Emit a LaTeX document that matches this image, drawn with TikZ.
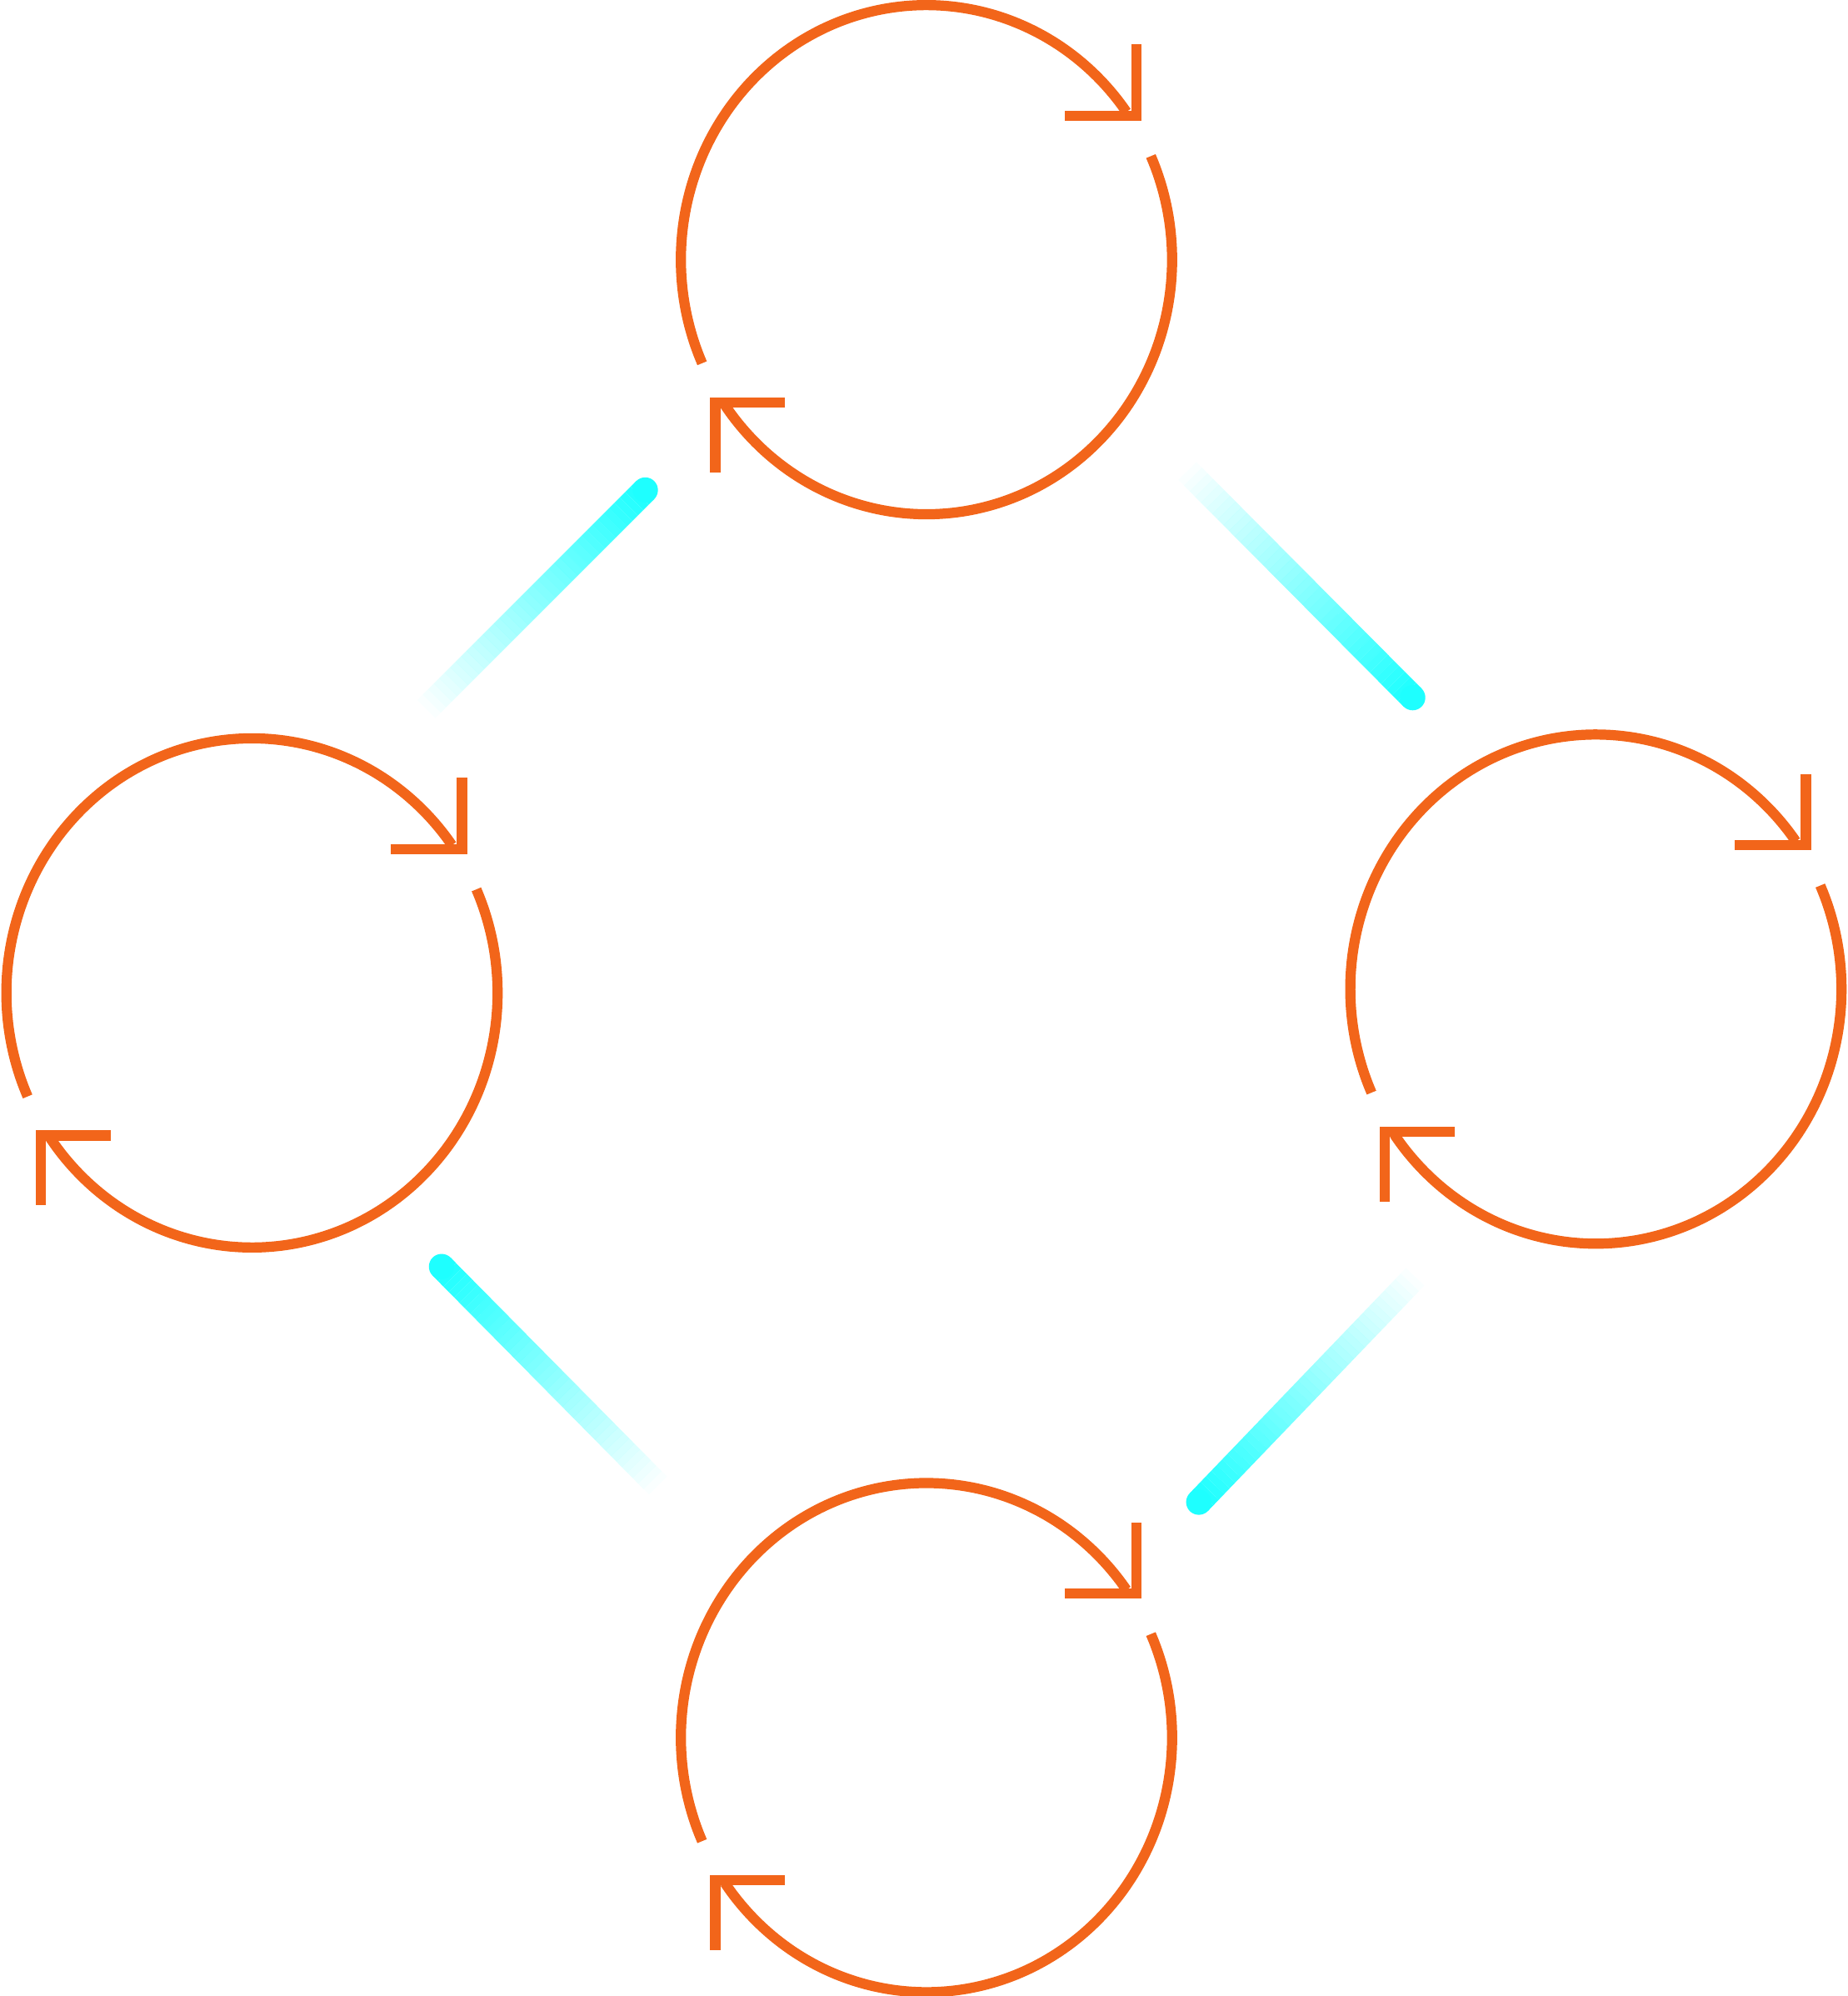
\documentclass[tikz,border=0pt]{standalone}
\usetikzlibrary{calc}
\definecolor{loopor}{RGB}{242,101,26}
\definecolor{barcy}{RGB}{30,255,255}
\tikzset{loopline/.style={draw=loopor,line width=4pt},
  arrowline/.style={draw=loopor,line width=4pt,line cap=butt,line join=miter}}
\newcommand\cycleloop[3]{%
  \begin{scope}[shift={(#1,#2)}]
    \coordinate (#3c) at (0,0);
    \draw[loopline] plot[domain=204:35.5,samples=80,smooth] ({193*cos(\x)},{-200*sin(\x)});
    \draw[loopline] plot[domain=24:-145.2,samples=80,smooth] ({193*cos(\x)},{-200*sin(\x)});
    \draw[arrowline] (109,-113) -- (165,-113) -- (165,-169);
    \draw[arrowline] (-111,112) -- (-166,112) -- (-166,167);
  \end{scope}}
\newcommand\fadebar[3]{%
  \coordinate (#1s) at (#2);
  \coordinate (#1e) at (#3);
  \fill[barcy] (#1s) circle (5pt);
  \foreach \i in {0,...,39}{
    \pgfmathsetmacro\ta{\i/40}
    \pgfmathsetmacro\tb{(\i+1)/40}
    \pgfmathsetmacro\op{1-\i/40}
    \draw[barcy,line width=10pt,draw opacity=\op] ($(#1s)!\ta!(#1e)$) -- ($(#1s)!\tb!(#1e)$);
  }}
\begin{document}
\begin{tikzpicture}[x=0.5pt,y=-0.5pt]
\useasboundingbox (0,0) rectangle (1452,1568);
\cycleloop{728}{204}{top}
\cycleloop{198}{780}{left}
\cycleloop{1254}{777}{right}
\cycleloop{728}{1365}{bottom}
\fadebar{b1}{507,385}{335,557}
\fadebar{b2}{1110,548}{933,370}
\fadebar{b3}{347,995}{517,1167}
\fadebar{b4}{942,1180}{1112,1003}
\end{tikzpicture}
\end{document}
